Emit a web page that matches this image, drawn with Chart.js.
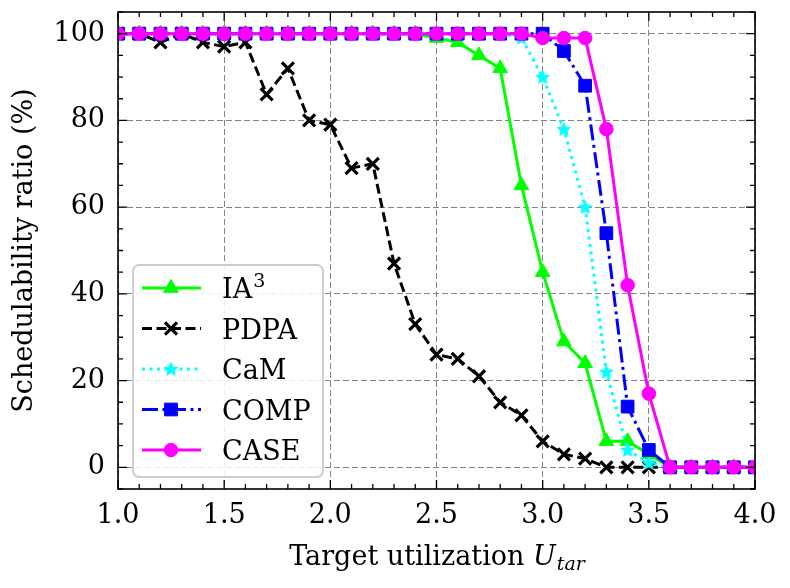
<!DOCTYPE html>
<html>
<head>
<meta charset="utf-8">
<script src="https://cdn.jsdelivr.net/npm/chart.js@4.4.1/dist/chart.umd.min.js"></script>
<style>
  html, body { margin: 0; padding: 0; background: #fff; }
  canvas { display: block; }
</style>
</head>
<body>
<canvas id="ratioChart" width="790" height="588"></canvas>
<script>
// target utilization U_tar, one sample every 0.1
const utilization = [1.0, 1.1, 1.2, 1.3, 1.4, 1.5, 1.6, 1.7, 1.8, 1.9, 2.0,
                     2.1, 2.2, 2.3, 2.4, 2.5, 2.6, 2.7, 2.8, 2.9, 3.0,
                     3.1, 3.2, 3.3, 3.4, 3.5, 3.6, 3.7, 3.8, 3.9, 4.0];

// schedulability ratio (%) per method
const ia3  = [100, 100, 100, 100, 100, 100, 100, 100, 100, 100, 100,
              100, 100, 100, 100,  99,  98,  95,  92,  65,  45,
               29,  24,   6,   6,   3,   0,   0,   0,   0,   0];
const pdpa = [100, 100,  98, 100,  98,  97,  98,  86,  92,  80,  79,
               69,  70,  47,  33,  26,  25,  21,  15,  12,   6,
                3,   2,   0,   0,   0,   0,   0,   0,   0,   0];
const cam  = [100, 100, 100, 100, 100, 100, 100, 100, 100, 100, 100,
              100, 100, 100, 100, 100, 100, 100, 100,  99,  90,
               78,  60,  22,   4,   1,   0,   0,   0,   0,   0];
const comp = [100, 100, 100, 100, 100, 100, 100, 100, 100, 100, 100,
              100, 100, 100, 100, 100, 100, 100, 100, 100, 100,
               96,  88,  54,  14,   4,   0,   0,   0,   0,   0];
const caseRatio = [100, 100, 100, 100, 100, 100, 100, 100, 100, 100, 100,
              100, 100, 100, 100, 100, 100, 100, 100, 100,  99,
               99,  99,  78,  42,  17,   0,   0,   0,   0,   0];

const xTicks = [1.0, 1.5, 2.0, 2.5, 3.0, 3.5, 4.0];
const xTickLabels = ['1.0', '1.5', '2.0', '2.5', '3.0', '3.5', '4.0'];
const yTicks = [0, 20, 40, 60, 80, 100];
const yTickLabels = ['0', '20', '40', '60', '80', '100'];

const SERIF = '"DejaVu Serif", "Liberation Serif", serif';
Chart.defaults.font.family = SERIF;
Chart.defaults.color = '#000';

// filled five-point star, like matplotlib's '*' marker
function makeStar(color, r) {
    const c = document.createElement('canvas');
    const s = Math.ceil(r * 2 + 2);
    c.width = c.height = s;
    const g = c.getContext('2d');
    g.translate(s / 2, s / 2 + r * 0.08);
    g.beginPath();
    for (let i = 0; i < 10; i++) {
        const rr = i % 2 ? r * 0.45 : r;
        const a = -Math.PI / 2 + i * Math.PI / 5;
        g.lineTo(rr * Math.cos(a), rr * Math.sin(a));
    }
    g.closePath();
    g.fillStyle = color;
    g.fill();
    g.strokeStyle = color;
    g.lineWidth = 1;
    g.stroke();
    return c;
}

function series(label, values, color, style) {
    return Object.assign({
        label: label,
        data: utilization.map((u, i) => ({ x: u, y: values[i] })),
        borderColor: color,
        backgroundColor: color,
        pointBackgroundColor: color,
        pointBorderColor: color,
        borderWidth: 3,
        pointBorderWidth: 1,
        tension: 0,
        clip: 0,
        fill: false
    }, style);
}

const datasets = [
    series('IA³', ia3, '#00ff00', { pointStyle: 'triangle', pointRadius: 8.5, order: 4 }),
    series('PDPA', pdpa, '#000000', { pointStyle: 'crossRot', pointRadius: 8.5, pointBorderWidth: 3.2, borderDash: [10, 4.5], order: 3 }),
    series('CaM', cam, '#00ffff', { pointStyle: makeStar('#00ffff', 7), pointRadius: 6, borderDash: [3, 4.5], order: 2 }),
    series('COMP', comp, '#0000ff', { pointStyle: 'rect', pointRadius: 9, borderDash: [16, 4.5, 3, 4.5], order: 1 }),
    series('CASE', caseRatio, '#ff00ff', { pointStyle: 'circle', pointRadius: 6.8, order: 0 })
];

// box, inward ticks on all four sides, x title with subscript, legend in the lower left
const framePlugin = {
    id: 'frame',
    afterDraw(chart) {
        const { ctx, chartArea: a, scales: { x, y } } = chart;
        ctx.save();
        ctx.strokeStyle = '#000';
        ctx.lineWidth = 1.3;
        ctx.beginPath();
        for (let k = 10; k <= 40; k++) {
            const v = k / 10;
            const px = x.getPixelForValue(v);
            const len = k % 5 === 0 ? 9 : 5;
            ctx.moveTo(px, a.bottom); ctx.lineTo(px, a.bottom - len);
            ctx.moveTo(px, a.top); ctx.lineTo(px, a.top + len);
        }
        for (let v = -5; v <= 105; v += 5) {
            const py = y.getPixelForValue(v);
            const len = v % 20 === 0 ? 9 : 5;
            ctx.moveTo(a.left, py); ctx.lineTo(a.left + len, py);
            ctx.moveTo(a.right, py); ctx.lineTo(a.right - len, py);
        }
        ctx.stroke();
        ctx.lineWidth = 1.6;
        ctx.strokeRect(a.left, a.top, a.right - a.left, a.bottom - a.top);

        // x axis title: "Target utilization U_tar"
        const big = '27px ' + SERIF;
        const ital = 'italic 27px ' + SERIF;
        const sub = 'italic 19px ' + SERIF;
        ctx.fillStyle = '#000';
        ctx.textBaseline = 'alphabetic';
        ctx.textAlign = 'left';
        ctx.font = big;  const w1 = ctx.measureText('Target utilization ').width;
        ctx.font = ital; const w2 = ctx.measureText('U').width;
        ctx.font = sub;  const w3 = ctx.measureText('tar').width;
        let tx = (a.left + a.right) / 2 - (w1 + w2 + w3) / 2;
        const base = 565;
        ctx.font = big;  ctx.fillText('Target utilization ', tx, base); tx += w1;
        ctx.font = ital; ctx.fillText('U', tx, base); tx += w2 + 1;
        ctx.font = sub;  ctx.fillText('tar', tx, base + 5);

        // legend
        const bx = a.left + 15, bw = 190, bh = 212;
        const by = a.bottom - 12 - bh;
        ctx.beginPath();
        ctx.roundRect(bx, by, bw, bh, 6);
        ctx.fillStyle = 'rgba(255,255,255,0.85)';
        ctx.fill();
        ctx.strokeStyle = '#cccccc';
        ctx.lineWidth = 1.8;
        ctx.stroke();
        ctx.textBaseline = 'alphabetic';
        chart.data.datasets.forEach((ds, i) => {
            const ly = by + 23 + i * 40.5;
            ctx.save();
            ctx.strokeStyle = ds.borderColor;
            ctx.lineWidth = ds.borderWidth;
            ctx.setLineDash(ds.borderDash || []);
            ctx.beginPath();
            ctx.moveTo(bx + 9, ly);
            ctx.lineTo(bx + 68, ly);
            ctx.stroke();
            ctx.setLineDash([]);
            ctx.fillStyle = ds.pointBackgroundColor;
            ctx.strokeStyle = ds.pointBorderColor;
            ctx.lineWidth = ds.pointBorderWidth;
            Chart.helpers.drawPoint(ctx, {
                pointStyle: ds.pointStyle, radius: ds.pointRadius,
                rotation: 0, borderWidth: ds.pointBorderWidth
            }, bx + 38, ly);
            ctx.restore();
            ctx.fillStyle = '#000';
            // a trailing "³" is set as a real superscript
            const lb = ly + 10;
            ctx.font = '27px ' + SERIF;
            if (ds.label.endsWith('³')) {
                const stem = ds.label.slice(0, -1);
                ctx.fillText(stem, bx + 89, lb);
                const sw = ctx.measureText(stem).width;
                ctx.font = '19px ' + SERIF;
                ctx.fillText('3', bx + 89 + sw + 1, lb - 11);
            } else {
                ctx.fillText(ds.label, bx + 89, lb);
            }
        });
        ctx.restore();
    }
};

const gridOpts = { color: '#858585', lineWidth: 1, drawTicks: false };

new Chart(document.getElementById('ratioChart'), {
    type: 'line',
    data: { datasets: datasets },
    options: {
        responsive: false,
        animation: false,
        layout: { padding: { left: 0, top: 12, right: 35, bottom: 0 } },
        plugins: { legend: { display: false }, tooltip: { enabled: false } },
        scales: {
            x: {
                type: 'linear', min: 1, max: 4,
                afterBuildTicks: s => { s.ticks = xTicks.map(v => ({ value: v })); },
                afterFit: s => { s.height = 99; s.paddingLeft = 0; s.paddingRight = 0; },
                ticks: { callback: (v, i) => xTickLabels[i], font: { size: 27 }, padding: 11, maxRotation: 0, autoSkip: false },
                grid: gridOpts,
                border: { display: false, dash: [6, 3] }
            },
            y: {
                type: 'linear', min: -5, max: 105,
                afterBuildTicks: s => { s.ticks = yTicks.map(v => ({ value: v })); },
                afterFit: s => { s.width = 118; s.paddingTop = 0; s.paddingBottom = 0; },
                ticks: { callback: (v, i) => yTickLabels[i], font: { size: 27 }, padding: 13, autoSkip: false },
                title: { display: true, text: 'Schedulability ratio (%)', font: { size: 27 }, padding: { top: 9, bottom: 0 } },
                grid: gridOpts,
                border: { display: false, dash: [6, 3] }
            }
        }
    },
    plugins: [framePlugin]
});
</script>
</body>
</html>
